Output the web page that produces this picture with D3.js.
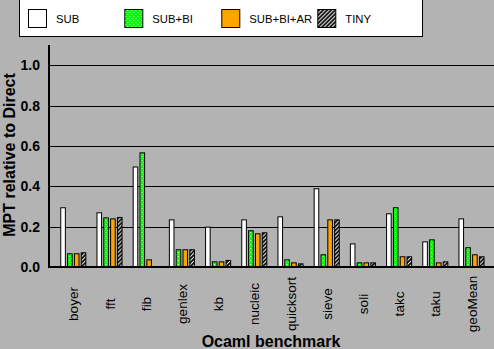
<!DOCTYPE html>
<html><head><meta charset="utf-8">
<script src="https://cdn.jsdelivr.net/npm/d3@7"></script>
<style>html,body{margin:0;padding:0;background:#b3b3b3;}svg{display:block;}</style>
</head><body>
<svg id="c" width="494" height="349"></svg>
<script>
const categories = ["boyer","fft","fib","genlex","kb","nucleic","quicksort","sieve","soli","takc","taku","geoMean"];
const seriesNames = ["SUB","SUB+BI","SUB+BI+AR","TINY"];
const SUB      = [0.296,0.271,0.498,0.236,0.200,0.236,0.251,0.390,0.117,0.266,0.127,0.241];
const SUB_BI   = [0.068,0.246,0.568,0.088,0.028,0.182,0.038,0.063,0.023,0.296,0.137,0.098];
const SUB_BI_AR= [0.068,0.241,0.038,0.088,0.028,0.167,0.023,0.236,0.023,0.053,0.023,0.063];
const TINY     = [0.073,0.248,0.000,0.088,0.035,0.172,0.018,0.236,0.023,0.053,0.028,0.053];
const yTicks = [0.0,0.2,0.4,0.6,0.8,1.0];
const seriesValues = [SUB, SUB_BI, SUB_BI_AR, TINY];

const svg = d3.select("#c");
const defs = svg.append("defs");
// green dotted pattern
const pg = defs.append("pattern").attr("id","dots").attr("patternUnits","userSpaceOnUse").attr("width",4).attr("height",4);
pg.append("rect").attr("width",4).attr("height",4).attr("fill","#00ff00");
pg.append("rect").attr("x",1).attr("y",0).attr("width",1).attr("height",1).attr("fill","#ffffff");
pg.append("rect").attr("x",3).attr("y",2).attr("width",1).attr("height",1).attr("fill","#ffffff");
// hatch pattern
const ph = defs.append("pattern").attr("id","hatch").attr("patternUnits","userSpaceOnUse").attr("width",4).attr("height",4);
ph.append("rect").attr("width",4).attr("height",4).attr("fill","#ffffff");
ph.append("path").attr("d","M-1,1 L1,-1 M0,4 L4,0 M3,5 L5,3").attr("stroke","#000").attr("stroke-width",1.8);

const fills = ["#ffffff","url(#dots)","#ffa500","url(#hatch)"];

const axisX = 49, axisRight = 494, baseY = 267;
const y = d3.scaleLinear().domain([0,1.1]).range([baseY,45]);
const x = d3.scaleBand().domain(categories).range([55.2,489.6]).paddingInner(0.28).paddingOuter(0.14);
const xs = d3.scaleBand().domain(seriesNames).range([0,x.bandwidth()]).paddingInner(0.18).paddingOuter(0);

// gridlines
svg.append("g").selectAll("line").data(yTicks.filter(d=>d>0)).join("line")
  .attr("x1",axisX).attr("x2",axisRight).attr("y1",d=>Math.round(y(d))+0.5).attr("y2",d=>Math.round(y(d))+0.5)
  .attr("stroke","#000").attr("stroke-width",1);

// y tick labels
svg.append("g").selectAll("text").data(yTicks).join("text")
  .attr("x",40).attr("y",d=>y(d)+5).attr("text-anchor","end")
  .attr("font-family","Liberation Sans, Arial, sans-serif").attr("font-weight","bold").attr("font-size","14px")
  .attr("fill","#000").text(d=>d.toFixed(1));

// bars
const groups = svg.append("g").selectAll("g").data(categories).join("g")
  .attr("transform",d=>`translate(${x(d)},0)`);
groups.selectAll("rect").data((c,i)=>seriesNames.map((s,j)=>({s,j,v:seriesValues[j][i]})).filter(d=>d.v>0)).join("rect")
  .attr("x",d=>xs(d.s)+0.5).attr("width",xs.bandwidth()-1)
  .attr("y",d=>y(d.v)+0.5).attr("height",d=>baseY-y(d.v))
  .attr("fill",d=>fills[d.j]).attr("stroke","#000").attr("stroke-width",1);

// axes lines
svg.append("line").attr("x1",axisX).attr("x2",axisX).attr("y1",45).attr("y2",baseY+1).attr("stroke","#000").attr("stroke-width",2);
svg.append("line").attr("x1",axisX-1).attr("x2",axisRight).attr("y1",baseY).attr("y2",baseY).attr("stroke","#000").attr("stroke-width",2);

// x tick labels
svg.append("g").selectAll("text").data(categories).join("text")
  .attr("transform",d=>`translate(${x(d)+x.bandwidth()/2+5},304) rotate(-90)`)
  .attr("text-anchor","middle")
  .attr("font-family","Liberation Sans, Arial, sans-serif").attr("font-size","13.5px").attr("fill","#000")
  .text(d=>d);

// axis titles
svg.append("text").attr("x",271).attr("y",347).attr("text-anchor","middle")
  .attr("font-family","Liberation Sans, Arial, sans-serif").attr("font-weight","bold").attr("font-size","16px")
  .text("Ocaml benchmark");
svg.append("text").attr("transform","translate(15,155) rotate(-90)").attr("text-anchor","middle")
  .attr("font-family","Liberation Sans, Arial, sans-serif").attr("font-weight","bold").attr("font-size","16px")
  .text("MPT relative to Direct");

// legend
const lg = svg.append("g");
lg.append("rect").attr("x",19.5).attr("y",-0.5).attr("width",403).attr("height",37).attr("fill","#fff").attr("stroke","#000").attr("stroke-width",1);
const legX = [28,124.3,221.3,317.3];
const li = lg.selectAll("g").data(seriesNames).join("g").attr("transform",(d,i)=>`translate(${legX[i]},0)`);
li.append("rect").attr("x",0.5).attr("y",9.5).attr("width",18).attr("height",18).attr("fill",(d,i)=>fills[i]).attr("stroke","#000");
li.append("text").attr("x",28).attr("y",23.3).attr("font-family","Liberation Sans, Arial, sans-serif").attr("font-size","11.3px").text(d=>d);
</script>
</body></html>
